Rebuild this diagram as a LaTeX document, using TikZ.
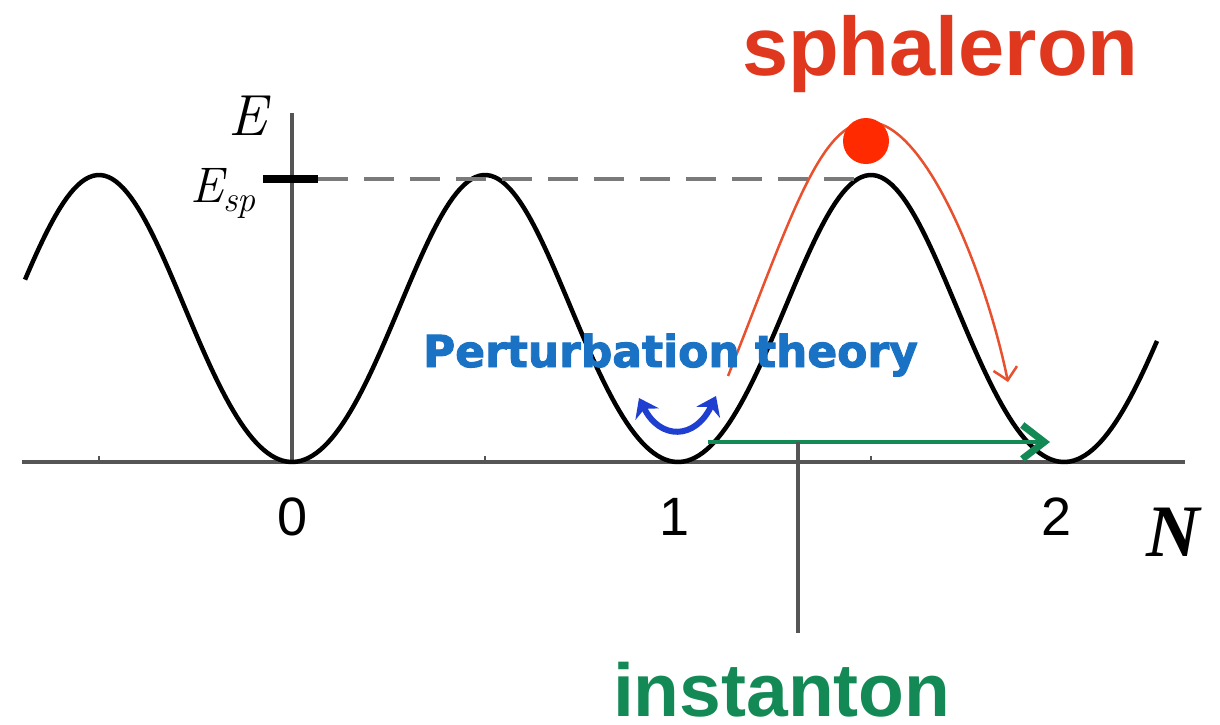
\documentclass[tikz,border=0pt]{standalone}
\usepackage{fontspec}
\setsansfont{Liberation Sans}
\newfontfamily\djvheavy[FakeBold=2.2]{DejaVu Sans Bold}
\newfontfamily\serifN{Liberation Serif}
\usetikzlibrary{arrows.meta}
\definecolor{sphred}{HTML}{E0381F}
\definecolor{dotred}{HTML}{FF2A00}
\definecolor{arrred}{HTML}{E8502E}
\definecolor{ptblue}{HTML}{1A72C4}
\definecolor{arrblue}{HTML}{1F3FD0}
\definecolor{instgreen}{HTML}{138A55}
\definecolor{axisgray}{HTML}{555555}
\definecolor{dashgray}{HTML}{7A7A7A}
\begin{document}
\begin{tikzpicture}[x=1pt,y=-1pt,
  declare function={ff(\t)=(1-cos((\t-292)*0.932642))/2; gg(\t)=ff(\t)-0.2*ff(\t)*(1-ff(\t));},
  every node/.style={inner sep=0pt,outer sep=0pt},
  axisline/.style={draw=axisgray,line width=3.5pt},
  wave/.style={draw=black,line width=4.5pt},
  digit/.style={font=\sffamily\fontsize{54}{56}\selectfont,anchor=base},
  ]
\fill[white] (0,0) rectangle (1220,724);
\useasboundingbox (0,0) rectangle (1220,724);

% axes
\coordinate (xl) at (22,462);
\coordinate (xr) at (1185,462);
\coordinate (yb) at (292,462);
\coordinate (yt) at (292,113);
\draw[axisline] (xl) -- (xr);
\draw[axisline] (yb) -- (yt);
\foreach \tx in {99,485,871}{\draw[axisgray,line width=2pt] (\tx,462) -- (\tx,456);}

% potential
\draw[wave] plot[domain=25:1157,samples=300] (\x,{462-287*gg(\x)});

% E_sp level
\coordinate (tl) at (263,179);
\coordinate (tr) at (318,179);
\coordinate (dend) at (862,179);
\draw[dashgray,line width=3.5pt,dash pattern=on 30pt off 16pt] (tr) -- (dend);
\draw[black,line width=8pt] (tl) -- (tr);

\node[font=\itshape\fontsize{58}{60}\selectfont,anchor=base] (elabel) at (248,135) {E};
\node[font=\itshape\fontsize{50}{52}\selectfont,anchor=base west] (esp) at (190,202) {E\raisebox{-9pt}{\fontsize{36}{38}\selectfont sp}};

% tick labels
\node[digit] (n0) at (293,535) {0};
\node[digit] (n1) at (675,535) {1};
\node[digit] (n2) at (1057,535) {2};
\node[font=\serifN\bfseries\itshape\fontsize{74}{76}\selectfont,anchor=base west] (nlab) at (1146,556) {N};

% sphaleron
\coordinate (rs) at (728,376);
\coordinate (re) at (1008,382);
\draw[arrred,line width=2.5pt,-{Straight Barb[length=12pt,width=24pt]}] (rs) .. controls (790,220) and (820,120) .. (870,122) .. controls (925,124) and (985,270) .. (re);
\node[circle,fill=dotred,minimum size=46pt] (dot) at (866,141) {};
\node[font=\sffamily\bfseries\fontsize{83}{90}\selectfont,text=sphred,anchor=base west] (sph) at (742,75) {sphaleron};

% perturbation theory
\node[font=\djvheavy\fontsize{44}{48}\selectfont,text=ptblue,anchor=base west] (pt) at (423,367) {Perturbation theory};
\coordinate (bl) at (639,398);
\coordinate (br) at (716,396);
\draw[arrblue,line width=6pt,{Stealth[length=18pt,width=26pt]}-{Stealth[length=18pt,width=26pt]}] (bl) .. controls (660,440) and (695,440) .. (br);

% instanton
\coordinate (gs) at (708,442);
\coordinate (ge) at (1050,442);
\draw[instgreen,line width=4pt,-{Straight Barb[length=22pt,width=34pt,line width=7pt]}] (gs) -- (ge);
\node[font=\sffamily\bfseries\fontsize{75}{80}\selectfont,text=instgreen,anchor=base west] (inst) at (613,716) {instanton};
\coordinate (ipt) at (798,442);
\coordinate (iend) at (798,633);
\draw[axisgray,line width=3.5pt] (ipt) -- (iend);
\end{tikzpicture}
\end{document}
